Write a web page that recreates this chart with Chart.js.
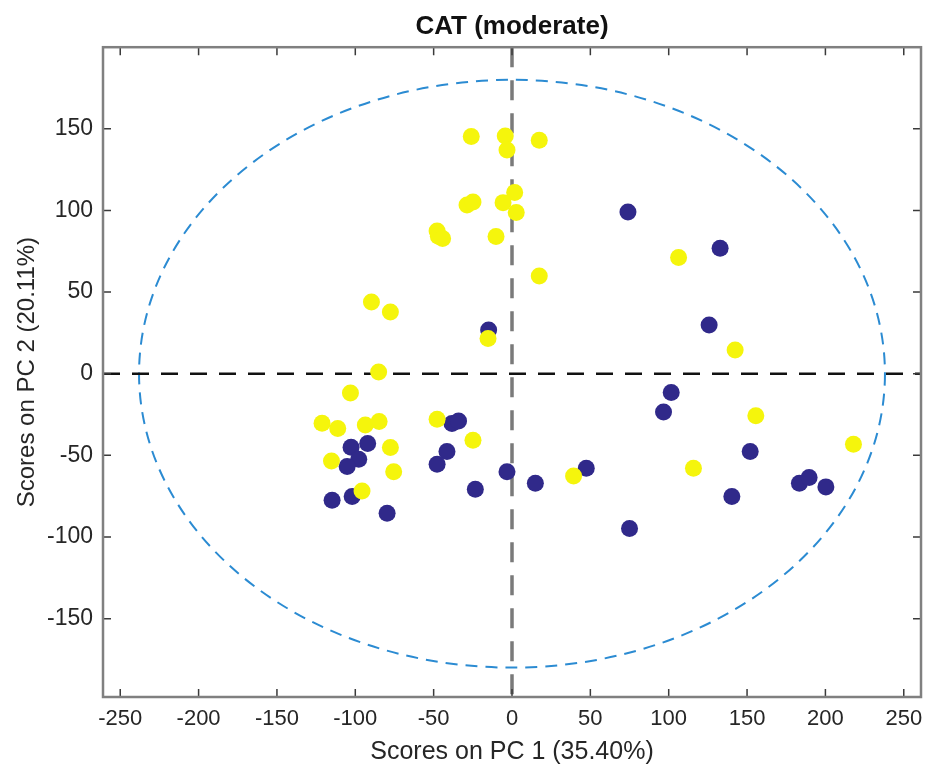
<!DOCTYPE html>
<html>
<head>
<meta charset="utf-8">
<title>CAT (moderate)</title>
<script src="https://cdn.jsdelivr.net/npm/chart.js@4.4.0/dist/chart.umd.min.js"></script>
<style>
    html, body { margin: 0; padding: 0; background: #fff; }
    #wrap { width: 925px; height: 765px; }
</style>
</head>
<body>
<div id="wrap"><canvas id="scoreChart" width="925" height="765"></canvas></div>
<script>
// --- Data ---
// yellow group
const yellowPC1 = [-26.0, -4.3, -3.2, 17.4, 1.7, -5.7, 2.7, -28.7, -24.9, -10.2, -47.8, -47.0, -44.3,
    17.4, 106.3, -89.7, -77.6, -15.3, 142.4, -85.1, -103.1, -121.2, -111.2, -93.6, -84.8, -47.8,
    -24.9, -77.6, -115.2, -75.5, -95.7, 155.6, 217.9, 115.8, 39.3];
const yellowPC2 = [145.3, 145.6, 137.0, 143.0, 111.0, 104.8, 98.7, 103.4, 105.2, 84.0, 87.4, 84.2, 82.8,
    59.9, 71.2, 44.0, 37.8, 21.6, 14.6, 1.1, -11.8, -30.3, -33.6, -31.4, -29.3, -27.9,
    -40.7, -45.2, -53.4, -60.1, -71.8, -25.8, -43.2, -57.9, -62.6];

// navy group
const navyPC1 = [74.0, 132.8, 125.8, -14.9, 101.6, 96.7, 152.0, -102.7, -92.1, -97.8, -105.2, -114.8,
    -102.0, -79.7, -38.3, -34.1, -41.5, -47.8, -23.4, -3.2, 14.9, 47.4, 75.0, 140.3, 183.4, 189.6, 200.3];
const navyPC2 = [99.1, 76.9, 29.9, 26.8, -11.5, -23.4, -47.6, -45.0, -42.7, -52.4, -56.8, -77.5,
    -75.2, -85.4, -30.5, -28.9, -47.6, -55.4, -70.7, -60.1, -67.1, -57.9, -94.8, -75.2, -67.1, -63.6, -69.3];

// axes
const xTicks = [-250, -200, -150, -100, -50, 0, 50, 100, 150, 200, 250];
const yTicks = [-150, -100, -50, 0, 50, 100, 150];
const xRange = [-261, 261];
const yRange = [-198, 200];

// confidence ellipse (centred at origin)
const ellipseRadiusPC1 = 238;
const ellipseRadiusPC2 = 180;

const FONT = "'Liberation Sans', Arial, Helvetica, sans-serif";
const TEXT_COLOR = '#262626';

const toPoints = (xs, ys) => xs.map((x, i) => ({ x: x, y: ys[i] }));

// draws the zero lines and the ellipse under the points
const guidesPlugin = {
    id: 'guides',
    beforeDatasetsDraw(chart) {
        const { ctx, chartArea, scales } = chart;
        const x0 = scales.x.getPixelForValue(0);
        const y0 = scales.y.getPixelForValue(0);
        ctx.save();

        // ellipse
        const rx = Math.abs(scales.x.getPixelForValue(ellipseRadiusPC1) - x0);
        const ry = Math.abs(scales.y.getPixelForValue(ellipseRadiusPC2) - y0);
        ctx.strokeStyle = '#2b8bd2';
        ctx.lineWidth = 2;
        ctx.setLineDash([12, 8]);
        ctx.beginPath();
        ctx.ellipse(x0, y0, rx, ry, 0, 0, Math.PI * 2);
        ctx.stroke();

        // horizontal zero line
        ctx.strokeStyle = '#111';
        ctx.lineWidth = 2.5;
        ctx.setLineDash([17, 12]);
        ctx.beginPath();
        ctx.moveTo(chartArea.left, y0);
        ctx.lineTo(chartArea.right, y0);
        ctx.stroke();

        // vertical zero line
        ctx.strokeStyle = '#7a7a7a';
        ctx.lineWidth = 3.5;
        ctx.setLineDash([20, 13]);
        ctx.beginPath();
        ctx.moveTo(x0, chartArea.top);
        ctx.lineTo(x0, chartArea.bottom);
        ctx.stroke();

        ctx.restore();
    }
};

// axes box with inward ticks on all four sides
const boxPlugin = {
    id: 'box',
    afterDraw(chart) {
        const { ctx, chartArea, scales } = chart;
        const { left, right, top, bottom } = chartArea;
        const len = 8;
        ctx.save();
        ctx.setLineDash([]);
        ctx.strokeStyle = '#3a3a3a';
        ctx.lineWidth = 1.5;
        ctx.beginPath();
        xTicks.forEach(v => {
            const px = scales.x.getPixelForValue(v);
            ctx.moveTo(px, bottom); ctx.lineTo(px, bottom - len);
            ctx.moveTo(px, top); ctx.lineTo(px, top + len);
        });
        yTicks.forEach(v => {
            const py = scales.y.getPixelForValue(v);
            ctx.moveTo(left, py); ctx.lineTo(left + len, py);
            ctx.moveTo(right, py); ctx.lineTo(right - len, py);
        });
        ctx.stroke();

        ctx.strokeStyle = '#808080';
        ctx.lineWidth = 2.5;
        ctx.strokeRect(left, top, right - left, bottom - top);
        ctx.restore();
    }
};

new Chart(document.getElementById('scoreChart').getContext('2d'), {
    type: 'scatter',
    data: {
        datasets: [
            {
                label: 'yellow',
                data: toPoints(yellowPC1, yellowPC2),
                backgroundColor: '#f5f50c',
                borderWidth: 0,
                pointRadius: 8.5
            },
            {
                label: 'navy',
                data: toPoints(navyPC1, navyPC2),
                backgroundColor: '#30298a',
                borderWidth: 0,
                pointRadius: 8.5
            }
        ]
    },
    options: {
        responsive: false,
        animation: false,
        devicePixelRatio: 1,
        layout: { autoPadding: false, padding: { left: 0, right: 4, top: 0, bottom: 0 } },
        plugins: {
            legend: { display: false },
            tooltip: { enabled: false },
            title: {
                display: true,
                text: 'CAT (moderate)',
                fullSize: false,
                color: '#111',
                font: { family: FONT, size: 26, weight: 'bold', lineHeight: 1.2 },
                padding: { top: 11, bottom: 5 }
            }
        },
        scales: {
            x: {
                type: 'linear',
                min: xRange[0],
                max: xRange[1],
                grid: { display: false, drawTicks: false },
                border: { display: false },
                ticks: {
                    color: TEXT_COLOR,
                    font: { family: FONT, size: 22 },
                    padding: 9,
                    maxRotation: 0,
                    autoSkip: false
                },
                afterBuildTicks: scale => { scale.ticks = xTicks.map(v => ({ value: v })); },
                afterFit: scale => {
                    scale.height = 68;
                    scale.paddingLeft = 0;
                    scale.paddingRight = 0;
                },
                title: {
                    display: true,
                    text: 'Scores on PC 1 (35.40%)',
                    color: TEXT_COLOR,
                    font: { family: FONT, size: 25, lineHeight: 1.0 },
                    padding: { top: 0, bottom: 0 }
                }
            },
            y: {
                type: 'linear',
                min: yRange[0],
                max: yRange[1],
                grid: { display: false, drawTicks: false },
                border: { display: false },
                ticks: {
                    color: TEXT_COLOR,
                    font: { family: FONT, size: 23 },
                    padding: 10,
                    autoSkip: false
                },
                afterBuildTicks: scale => { scale.ticks = yTicks.map(v => ({ value: v })); },
                afterFit: scale => {
                    scale.width = 103;
                    scale.paddingTop = 0;
                    scale.paddingBottom = 0;
                },
                title: {
                    display: true,
                    text: 'Scores on PC 2 (20.11%)',
                    color: TEXT_COLOR,
                    font: { family: FONT, size: 24, lineHeight: 1.2 },
                    padding: { top: 12.6, bottom: 0 }
                }
            }
        }
    },
    plugins: [guidesPlugin, boxPlugin]
});
</script>
</body>
</html>
